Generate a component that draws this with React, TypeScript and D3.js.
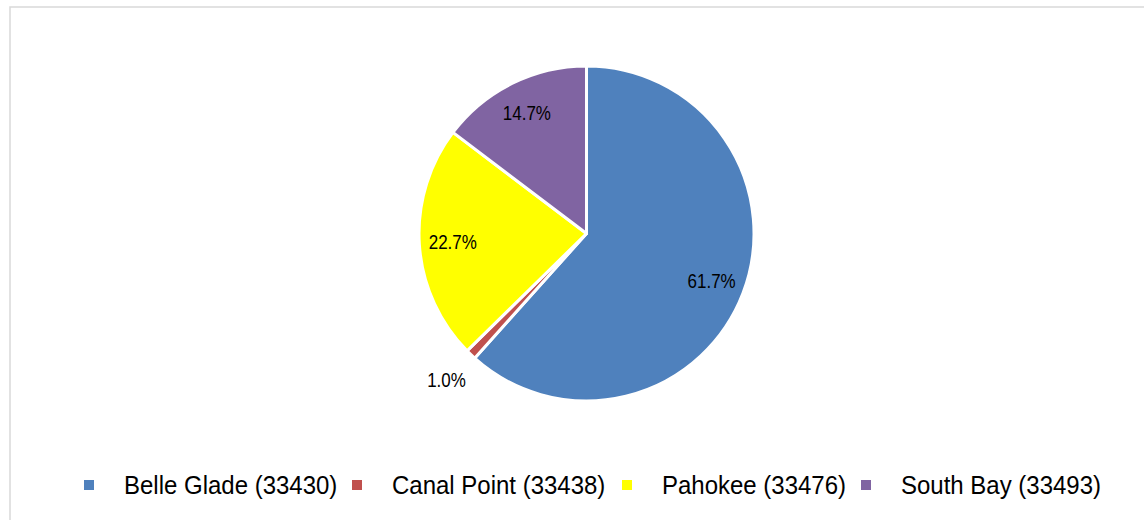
import React from "react";
import * as d3 from "d3";

const categories = ["Belle Glade (33430)", "Canal Point (33438)", "Pahokee (33476)", "South Bay (33493)"];
const values = [61.7, 1.0, 22.7, 14.7];
const labels = ["61.7%", "1.0%", "22.7%", "14.7%"];
const colors = ["#4F81BD", "#C0504D", "#FFFF00", "#8064A2"];

const W = 1144;
const H = 520;
const cx = 586.5;
const cy = 233.5;
const R = 167.5;
const labelRadius = [0.8, 1.21, 0.8, 0.8];
const legendX = [84, 352, 622, 861];

export default function App() {
  const pie = d3.pie<number>().sort(null).value((d) => d);
  const arcs = pie(values);
  const arc = d3.arc<d3.PieArcDatum<number>>().innerRadius(0).outerRadius(R);
  return (
    <svg
      width={W}
      height={H}
      style={{ position: "absolute", left: 0, top: 0, fontFamily: "'Liberation Sans', Arial, sans-serif" }}
    >
      <rect x={0} y={0} width={W} height={H} fill="#fff" />
      <rect x={10} y={7} width={W + 20} height={H + 20} fill="none" stroke="#D9D9D9" strokeWidth={1.5} />
      <g transform={`translate(${cx},${cy})`}>
        {arcs.map((a, i) => (
          <path key={i} d={arc(a) || ""} fill={colors[i]} stroke="#fff" strokeWidth={3} strokeLinejoin="round" />
        ))}
        {arcs.map((a, i) => {
          const mid = (a.startAngle + a.endAngle) / 2;
          const r = R * labelRadius[i];
          const x = Math.sin(mid) * r;
          const y = -Math.cos(mid) * r;
          return (
            <g key={i} transform={`translate(${x},${y}) scale(1,1.15)`}>
              <text x={0} y={0} dy="0.35em" textAnchor="middle" fontSize={17} fill="#000">
                {labels[i]}
              </text>
            </g>
          );
        })}
      </g>
      <g>
        {categories.map((c, i) => (
          <g key={i} transform={`translate(${legendX[i]},0)`}>
            <rect x={0} y={480} width={10} height={10} fill={colors[i]} />
            <g transform={`translate(40,493.5) scale(1,1.05)`}>
              <text x={0} y={0} fontSize={24} fill="#000">
                {c}
              </text>
            </g>
          </g>
        ))}
      </g>
    </svg>
  );
}
